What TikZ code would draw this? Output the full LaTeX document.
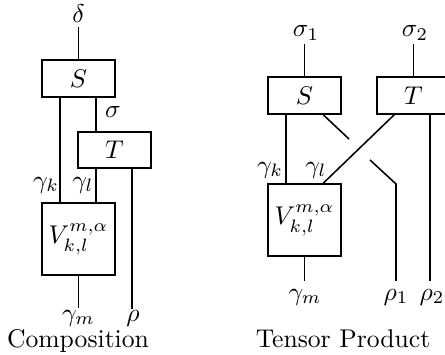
\documentclass[tikz,border=0pt]{standalone}
\usetikzlibrary{calc}
\begin{document}
\begin{tikzpicture}[x=0.39pt,y=-0.39pt,line width=0.6pt,
  box/.style={draw,line width=0.6pt,minimum width=73*0.39pt,minimum height=37*0.39pt,inner sep=0pt},
  vbox/.style={draw,line width=0.6pt,minimum width=73*0.39pt,minimum height=72*0.39pt,inner sep=0pt},
  lab/.style={inner sep=0pt}]
\useasboundingbox (0,0) rectangle (445,355);
% ---------- Composition ----------
\node[box] (S1) at (78.5,78.5) {$S$};
\node[box,minimum height=36*0.39pt] (T1) at (114.5,150) {$T$};
\node[vbox] (V1) at (78.5,239) {$V^{m,\alpha}_{k,l}$};
\node[lab] (delta) at (78.5,14) {$\delta$};
\coordinate (dtop) at (78.5,27);
\draw (dtop) -- (dtop |- S1.north);
\node[lab] (sigma) at (113,112) {$\sigma$};
\node[lab] (gk1) at (46,185) {$\gamma_k$};
\node[lab] (gl1) at (83,185) {$\gamma_l$};
\draw ([xshift=19*0.39pt]S1.south west) -- ([xshift=19*0.39pt]V1.north west);
\draw ([xshift=55*0.39pt]S1.south west) -- ([xshift=19*0.39pt]T1.north west);
\draw ([xshift=19*0.39pt]T1.south west) -- ([xshift=55*0.39pt]V1.north west);
\coordinate (rhoend) at (133,309);
\coordinate (t1br) at ([xshift=55*0.39pt]T1.south west);
\draw[line width=0.95pt] (t1br) -- (t1br |- rhoend);
\node[lab] (rho) at (133,318) {$\rho$};
\coordinate (gmend1) at (78.5,308);
\draw (V1.south) -- (V1.south |- gmend1);
\node[lab] (gm1) at (78.5,318) {$\gamma_m$};
\node[lab] (comp) at (78,341) {Composition};
% ---------- Tensor Product ----------
\node[box] (S2) at (304.5,95.5) {$S$};
\node[box] (T2) at (413.5,95.5) {$T$};
\node[vbox] (V2) at (304.5,220) {$V^{m,\alpha}_{k,l}$};
\node[lab] (s1) at (306,33) {$\sigma_1$};
\node[lab] (s2) at (415,33) {$\sigma_2$};
\coordinate (s1end) at (304.5,44);
\coordinate (s2end) at (413.5,44);
\draw (s1end) -- (s1end |- S2.north);
\draw (s2end) -- (s2end |- T2.north);
\node[lab] (gk2) at (270,170) {$\gamma_k$};
\node[lab] (gl2) at (316,170) {$\gamma_l$};
\draw ([xshift=19*0.39pt]S2.south west) -- ([xshift=19*0.39pt]V2.north west);
\coordinate (gapa) at (349,139);
\coordinate (gapb) at (370,160);
\coordinate (bend) at (396,184);
\coordinate (r1end) at (396,281);
\coordinate (r2end) at (431,281);
\coordinate (gmend2) at (304.5,281);
\draw ([xshift=56*0.39pt]S2.south west) -- (gapa);
\draw (gapb) -- (bend) -- (r1end);
\draw ([xshift=18*0.39pt]T2.south west) -- ([xshift=56*0.39pt]V2.north west);
\coordinate (t2br) at ([xshift=54*0.39pt]T2.south west);
\draw (t2br) -- (t2br |- r2end);
\draw (V2.south) -- (V2.south |- gmend2);
\node[lab] (gm2) at (305,297) {$\gamma_m$};
\node[lab] (r1) at (396,297) {$\rho_1$};
\node[lab] (r2) at (432,297) {$\rho_2$};
\node[lab] (tp) at (343,339) {Tensor Product};
\end{tikzpicture}
\end{document}
